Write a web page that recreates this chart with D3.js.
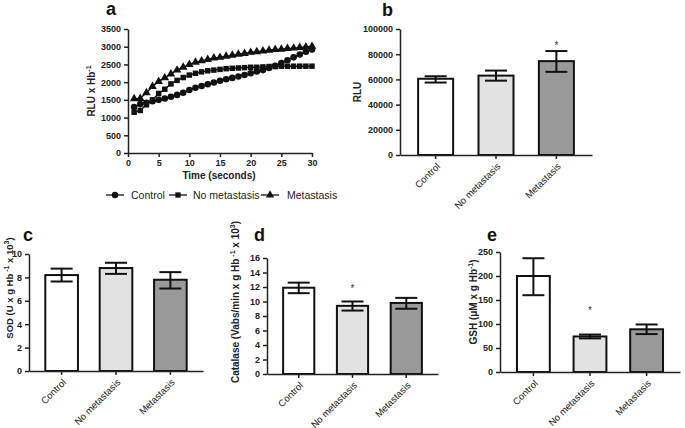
<!DOCTYPE html>
<html><head><meta charset="utf-8">
<script src="https://cdn.jsdelivr.net/npm/d3@7"></script>
<style>
body{margin:0;background:#fff;}
svg{font-family:"Liberation Sans",Arial,sans-serif;}
</style></head>
<body>
<svg id="c" width="685" height="428"></svg>
<script>
// ---------- DATA ----------
const groups = ["Control","No metastasis","Metastasis"];
const groupFill = ["#ffffff","#e2e2e2","#999999"];
const timeSec = d3.range(1,31);
const rluControl = [1300,1380,1420,1460,1500,1540,1590,1640,1700,1780,1840,1890,1940,1990,2040,2080,2120,2160,2200,2250,2300,2340,2400,2460,2540,2620,2700,2780,2860,2920];
const rluNoMet   = [1150,1200,1360,1500,1680,1800,1950,2050,2130,2200,2250,2290,2320,2340,2360,2380,2390,2400,2410,2420,2420,2430,2440,2440,2450,2450,2450,2450,2450,2450];
const rluMet     = [1530,1540,1700,1880,2020,2120,2230,2340,2420,2500,2560,2600,2640,2680,2700,2730,2760,2790,2810,2840,2860,2880,2900,2920,2930,2950,2960,2980,2990,3010];
const aYTicks = [0,500,1000,1500,2000,2500,3000,3500];
const aXTicks = [0,5,10,15,20,25,30];

const bMean = [60500,63000,74500], bLow=[57500,59000,66000], bHigh=[62500,67000,82500], bStar=[null,null,88000];
const bTicks = [0,20000,40000,60000,80000,100000];
const cMean = [8.2,8.8,7.8], cLow=[7.65,8.3,7.05], cHigh=[8.75,9.25,8.45], cStar=[null,null,null];
const cTicks = [0,2,4,6,8,10];
const dMean = [11.9,9.4,9.8], dLow=[11.15,8.75,9.0], dHigh=[12.6,10.0,10.5], dStar=[null,12.0,null];
const dTicks = [0,2,4,6,8,10,12,14,16];
const eMean = [200,74,89], eLow=[160,70,79], eHigh=[237,78,99], eStar=[null,131,null];
const eTicks = [0,50,100,150,200,250];

const svg = d3.select("#c");
const fmt = d3.format("d");

function styleAxis(g){
  g.selectAll("path,line").attr("stroke","#222").attr("stroke-width",1.5);
  g.selectAll("text").attr("font-size",9).attr("font-weight","bold").attr("fill","#222");
}

function yLabel(x, yc, parts, fs){
  const t = svg.append("text").attr("transform",`translate(${x},${yc}) rotate(-90)`)
    .attr("text-anchor","middle").attr("font-size",fs||10).attr("font-weight","bold").attr("fill","#222");
  parts.forEach(p=>{
    const s = t.append("tspan").text(p[0]);
    if(p[1]==="sup"){ s.attr("font-size",7).attr("dy",-4); }
    else if(p[1]==="down"){ s.attr("dy",4); }
  });
}

function title(x,y,s){
  svg.append("text").attr("x",x).attr("y",y).attr("font-size",18).attr("font-weight","bold").attr("fill","#111").text(s);
}

// ---------- Panel a ----------
{
  const x = d3.scaleLinear().domain([0,30]).range([128,312]);
  const y = d3.scaleLinear().domain([0,3500]).range([153,29]);
  const gx = svg.append("g").attr("transform","translate(0,153)").call(d3.axisBottom(x).tickValues(aXTicks).tickFormat(fmt).tickSize(4).tickSizeOuter(0));
  styleAxis(gx);
  const gy = svg.append("g").attr("transform","translate(128,0)").call(d3.axisLeft(y).tickValues(aYTicks).tickFormat(fmt).tickSize(4).tickSizeOuter(0));
  styleAxis(gy);
  const series = [
    {v:rluControl, sym:d3.symbolCircle, size:34},
    {v:rluNoMet, sym:d3.symbolSquare, size:30},
    {v:rluMet, sym:d3.symbolTriangle, size:32}
  ];
  const line = d3.line().x((d,i)=>x(timeSec[i])).y(d=>y(d));
  series.forEach(s=>{
    svg.append("path").attr("d",line(s.v)).attr("fill","none").attr("stroke","#111").attr("stroke-width",1.4);
    svg.append("g").selectAll("path").data(s.v).join("path")
      .attr("transform",(d,i)=>`translate(${x(timeSec[i])},${y(d)})`)
      .attr("d",d3.symbol(s.sym,s.size)).attr("fill","#111");
  });
  svg.append("text").attr("x",219).attr("y",179).attr("text-anchor","middle").attr("font-size",10).attr("font-weight","bold").attr("fill","#222").text("Time (seconds)");
  yLabel(95,91,[["RLU x Hb"],["-1","sup"]]);
  title(106,15,"a");
  // legend
  const leg = [{t:"Control",x:115,tx:131,sym:d3.symbolCircle,size:32},{t:"No metastasis",x:178,tx:193,sym:d3.symbolSquare,size:28},{t:"Metastasis",x:270,tx:287,sym:d3.symbolTriangle,size:30}];
  leg.forEach(l=>{
    svg.append("line").attr("x1",l.x-9).attr("x2",l.x+9).attr("y1",195).attr("y2",195).attr("stroke","#111").attr("stroke-width",1.3);
    svg.append("path").attr("transform",`translate(${l.x},195)`).attr("d",d3.symbol(l.sym,l.size)).attr("fill","#111");
    svg.append("text").attr("x",l.tx).attr("y",199).attr("font-size",10.5).attr("fill","#222").text(l.t);
  });
}

// ---------- Bar panels ----------
function barPanel(o){
  const x = d3.scaleBand().domain(groups).range([o.x0,o.x1]).paddingInner(o.pad).paddingOuter(o.padOuter);
  const y = d3.scaleLinear().domain([0,o.ticks[o.ticks.length-1]]).range([o.y0,o.y1]);
  svg.append("g").selectAll("rect").data(groups).join("rect")
    .attr("x",d=>x(d)).attr("width",x.bandwidth())
    .attr("y",(d,i)=>y(o.mean[i])).attr("height",(d,i)=>o.y0-y(o.mean[i]))
    .attr("fill",(d,i)=>groupFill[i]).attr("stroke","#111").attr("stroke-width",2);
  groups.forEach((g,i)=>{
    const cx = x(g)+x.bandwidth()/2;
    svg.append("line").attr("x1",cx).attr("x2",cx).attr("y1",y(o.low[i])).attr("y2",y(o.high[i])).attr("stroke","#111").attr("stroke-width",2);
    [o.low[i],o.high[i]].forEach(v=>svg.append("line").attr("x1",cx-11).attr("x2",cx+11).attr("y1",y(v)).attr("y2",y(v)).attr("stroke","#111").attr("stroke-width",2));
    if(o.star[i]!=null) svg.append("text").attr("x",cx).attr("y",y(o.star[i])+5).attr("text-anchor","middle").attr("font-size",10).attr("fill","#333").text("*");
  });
  const gy = svg.append("g").attr("transform",`translate(${o.x0},0)`).call(d3.axisLeft(y).tickValues(o.ticks).tickFormat(fmt).tickSize(4).tickSizeOuter(0));
  styleAxis(gy);
  const gx = svg.append("g").attr("transform",`translate(0,${o.y0})`).call(d3.axisBottom(x).tickSize(4).tickSizeOuter(0));
  styleAxis(gx);
  gx.selectAll("text").attr("font-weight","normal").attr("font-size",9.5)
    .attr("text-anchor","end").attr("dy",null).attr("y",0)
    .attr("transform","translate(5,12) rotate(-45)");
  title(o.tx,o.ty,o.title);
  yLabel(o.lx,o.ly,o.label,o.fs);
}

barPanel({x0:400,x1:592,y0:155,y1:29,pad:0.42,padOuter:0.3,mean:bMean,low:bLow,high:bHigh,star:bStar,ticks:bTicks,title:"b",tx:382,ty:16,lx:361,ly:92,label:[["RLU"]]});
barPanel({x0:29,x1:203,y0:371,y1:254,pad:0.4,padOuter:0.3,mean:cMean,low:cLow,high:cHigh,star:cStar,ticks:cTicks,title:"c",tx:23,ty:241,lx:13,ly:288,fs:9.5,label:[["SOD (U x g Hb"],[" -1","sup"],[" x 10","down"],["3","sup"],[")","down"]]});
barPanel({x0:267,x1:438,y0:374,y1:258,pad:0.42,padOuter:0.3,mean:dMean,low:dLow,high:dHigh,star:dStar,ticks:dTicks,title:"d",tx:254,ty:241,lx:239,ly:302,label:[["Catalase (Vabs/min x g Hb"],[" -1","sup"],[" x 10","down"],["3","sup"],[")","down"]]});
barPanel({x0:500,x1:680,y0:372,y1:252,pad:0.42,padOuter:0.3,mean:eMean,low:eLow,high:eHigh,star:eStar,ticks:eTicks,title:"e",tx:487,ty:241,lx:477,ly:302,label:[["GSH (\u03bcM x g Hb"],["-1","sup"],[")","down"]]});
</script>
</body></html>
